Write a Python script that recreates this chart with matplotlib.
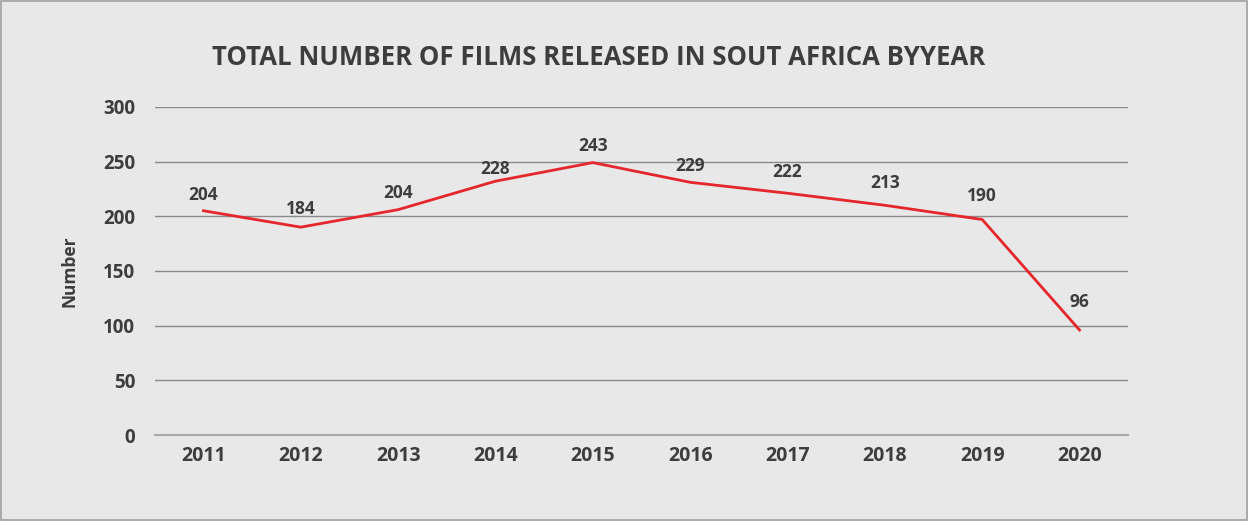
import matplotlib.pyplot as plt
from matplotlib.patches import Rectangle

years = ['2011', '2012', '2013', '2014', '2015', '2016', '2017', '2018', '2019', '2020']
films = [205, 190, 206, 232, 249, 231, 221, 210, 197, 96]
labels = ['204', '184', '204', '228', '243', '229', '222', '213', '190', '96']
yticks = [0, 50, 100, 150, 200, 250, 300]

bg = '#e7e8e7'
txt = '#3d3d3d'
plt.rcParams['font.family'] = ['Open Sans', 'DejaVu Sans']

fig = plt.figure(figsize=(12.48, 5.21), dpi=100, facecolor=bg)
ax = fig.add_axes([0.124, 0.165, 0.78, 0.63], facecolor=bg)

x = list(range(len(years)))
ax.plot(x, films, color='#e5262c', lw=2.0, zorder=3)

# label offsets in points above each point
offs = [11, 13, 12, 9, 12, 12, 15, 16, 17, 20]
for i, (v, lab) in enumerate(zip(films, labels)):
    ax.annotate(lab, (i, v), xytext=(0, offs[i]), textcoords='offset points',
                ha='center', va='center', fontsize=12.5, fontweight='bold', color=txt)

ax.set_xlim(-0.5, len(years) - 0.5)
ax.set_ylim(0, 300)
ax.set_yticks(yticks)
ax.set_xticks(x)
ax.set_xticklabels(years)
ax.grid(axis='y', color='#8a8a8a', lw=1.0)
ax.set_axisbelow(True)
for s in ['top', 'right', 'left']:
    ax.spines[s].set_visible(False)
ax.spines['bottom'].set_color('#a8a8a8')
ax.spines['bottom'].set_linewidth(1.5)
ax.tick_params(length=0, labelcolor=txt)
ax.tick_params(axis='y', pad=14, labelsize=13.5)
ax.tick_params(axis='x', pad=8, labelsize=14)
for t in ax.get_xticklabels() + ax.get_yticklabels():
    t.set_fontweight('bold')

ax.set_ylabel('Number', fontsize=12.5, fontweight='bold', color=txt, labelpad=18)

fig.text(0.48, 0.889, 'TOTAL NUMBER OF FILMS RELEASED IN SOUT AFRICA BYYEAR',
         ha='center', va='center', fontsize=18.5, fontweight='bold', color=txt)

fig.patches.append(Rectangle((0.001, 0.002), 0.998, 0.996, transform=fig.transFigure,
                             fill=False, edgecolor='#a0a0a0', lw=1.2))

fig.savefig('out.png', dpi=100, facecolor=bg)
